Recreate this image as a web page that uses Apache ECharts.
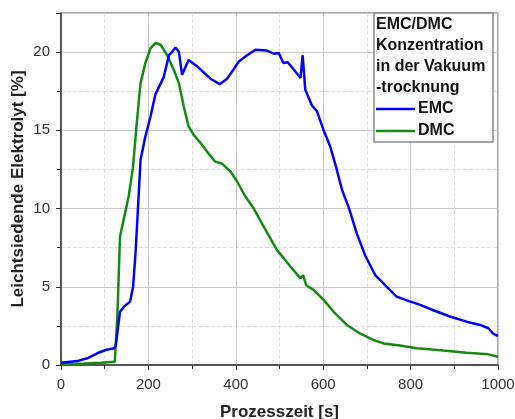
<!DOCTYPE html>
<html>
<head>
<meta charset="utf-8">
<script src="https://cdn.jsdelivr.net/npm/echarts@6/dist/echarts.min.js"></script>
<style>
  html, body { margin: 0; padding: 0; background: #fff; }
  #main { width: 515px; height: 419px; }
</style>
</head>
<body>
<div id="main"></div>
<script>
// Zeit [s] und Konzentration [%]
const emcTime = [0, 37, 60, 83, 102, 121, 125, 135, 144, 158, 165, 171, 182, 193, 205, 216, 235, 247, 254, 262, 270, 277, 292, 311, 342, 363, 380, 395, 407, 426, 445, 471, 487, 498, 509, 519, 532, 548, 553, 559, 574, 586, 601, 616, 631, 643, 658, 677, 696, 719, 730, 749, 768, 788, 822, 852, 890, 928, 959, 978, 989, 1000];
const emcValues = [0.15, 0.25, 0.43, 0.75, 0.96, 1.07, 1.2, 3.4, 3.73, 4.05, 5.0, 7.35, 13.1, 14.6, 15.9, 17.3, 18.4, 19.8, 20.0, 20.3, 20.0, 18.55, 19.5, 19.1, 18.3, 17.95, 18.3, 18.9, 19.4, 19.8, 20.15, 20.1, 19.9, 19.95, 19.3, 19.35, 18.9, 18.35, 19.8, 17.6, 16.6, 16.2, 15.0, 13.97, 12.5, 11.2, 10.1, 8.4, 7.0, 5.75, 5.44, 4.9, 4.37, 4.16, 3.84, 3.5, 3.1, 2.77, 2.56, 2.35, 2.0, 1.85];

const dmcTime = [0, 53, 91, 123, 129, 135, 145, 155, 165, 173, 182, 193, 205, 216, 228, 243, 258, 270, 281, 292, 304, 319, 338, 353, 369, 388, 403, 422, 441, 471, 494, 525, 548, 554, 561, 578, 601, 624, 654, 685, 715, 738, 776, 814, 875, 928, 978, 1000];
const dmcValues = [0.05, 0.1, 0.15, 0.2, 3.1, 8.2, 9.5, 10.8, 12.7, 15.35, 18.0, 19.3, 20.25, 20.58, 20.47, 19.8, 18.87, 18.0, 16.5, 15.25, 14.7, 14.2, 13.5, 13.0, 12.86, 12.37, 11.73, 10.77, 10.0, 8.5, 7.36, 6.3, 5.54, 5.75, 5.1, 4.8, 4.16, 3.4, 2.56, 2.0, 1.6, 1.38, 1.24, 1.07, 0.92, 0.79, 0.68, 0.53];

const headerLines = ["EMC/DMC", "Konzentration", "in der Vakuum", "-trocknung"];

const chart = echarts.init(document.getElementById("main"));

const pairs = (xs, ys) => xs.map((x, i) => [x, ys[i]]);

const option = {
  animation: false,
  backgroundColor: "#fff",
  grid: {
    left: 61,
    right: 17,
    top: 13,
    bottom: 54,
    outerBoundsMode: "none",
    containLabel: false,
    show: true,
    borderColor: "#555",
    borderWidth: 1
  },
  legend: {
    orient: "vertical",
    left: 376,
    top: 99,
    z: 20,
    icon: "rect",
    itemWidth: 39,
    itemHeight: 2.5,
    itemGap: 2,
    padding: 0,
    data: ["EMC", "DMC"],
    textStyle: {
      fontFamily: "Liberation Sans",
      fontWeight: "bold",
      fontSize: 16,
      lineHeight: 20,
      color: "#111",
      padding: [0, 0, 0, -2]
    }
  },
  graphic: [
    {
      type: "rect",
      z: 10,
      shape: { x: 374, y: 13, width: 119, height: 129 },
      style: { fill: "#fff", stroke: "#888", lineWidth: 1.5 }
    },
    ...headerLines.map((t, i) => ({
      type: "text",
      z: 11,
      left: 376,
      top: 17 + i * 21,
      style: {
        text: t,
        font: "bold 16px 'Liberation Sans'",
        fill: "#111"
      }
    }))
  ],
  xAxis: {
    type: "value",
    min: 0,
    max: 1000,
    interval: 200,
    name: "Prozesszeit [s]",
    nameLocation: "middle",
    nameGap: 39,
    nameMoveOverlap: false,
    nameTextStyle: {
      fontFamily: "Liberation Sans",
      fontWeight: "bold",
      fontSize: 17,
      color: "#222"
    },
    axisLine: { lineStyle: { color: "#333", width: 1.5 } },
    axisTick: { show: true, inside: false, length: 5, lineStyle: { color: "#333" } },
    minorTick: { show: true, splitNumber: 2, length: 4, lineStyle: { color: "#333" } },
    axisLabel: {
      fontFamily: "Liberation Sans",
      fontSize: 15,
      color: "#333",
      margin: 12,
      formatter: (v) => String(v)
    },
    splitLine: { show: true, lineStyle: { color: "#c8c8c8", width: 1 } },
    minorSplitLine: { show: true, lineStyle: { color: "#dddddd", type: "dashed", width: 1 } }
  },
  yAxis: {
    type: "value",
    min: 0,
    max: 22.5,
    interval: 5,
    name: "Leichtsiedende Elektrolyt [%]",
    nameLocation: "middle",
    nameGap: 34,
    nameMoveOverlap: false,
    nameTextStyle: {
      fontFamily: "Liberation Sans",
      fontWeight: "bold",
      fontSize: 17,
      color: "#222"
    },
    axisLine: { show: true, lineStyle: { color: "#333", width: 1.5 } },
    axisTick: { show: true, inside: false, length: 5, lineStyle: { color: "#333" } },
    minorTick: { show: true, splitNumber: 2, length: 4, lineStyle: { color: "#333" } },
    axisLabel: {
      fontFamily: "Liberation Sans",
      fontSize: 15,
      color: "#333",
      margin: 11,
      showMaxLabel: false
    },
    splitLine: { show: true, lineStyle: { color: "#c8c8c8", width: 1 } },
    minorSplitLine: { show: true, lineStyle: { color: "#dddddd", type: "dashed", width: 1 } }
  },
  series: [
    {
      name: "EMC",
      type: "line",
      symbol: "none",
      data: pairs(emcTime, emcValues),
      lineStyle: { color: "#0000ff", width: 2.5 },
      itemStyle: { color: "#0000ff" },
      z: 3
    },
    {
      name: "DMC",
      type: "line",
      symbol: "none",
      data: pairs(dmcTime, dmcValues),
      lineStyle: { color: "#148a14", width: 2.5 },
      itemStyle: { color: "#148a14" },
      z: 2
    }
  ]
};

chart.setOption(option);
</script>
</body>
</html>
